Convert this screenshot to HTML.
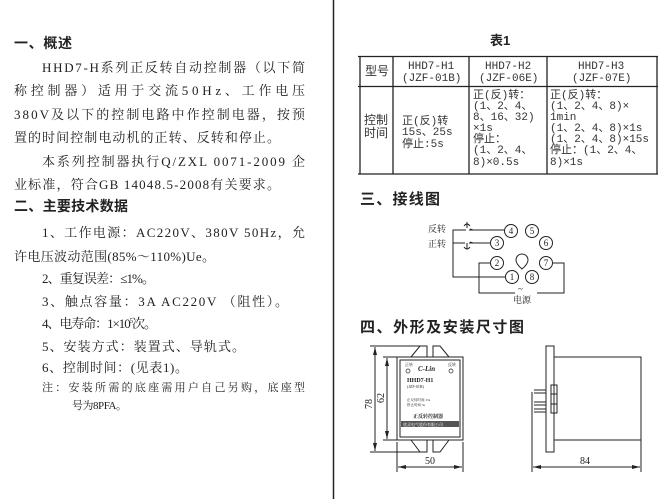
<!DOCTYPE html>
<html><head><meta charset="utf-8"><style>
html,body{margin:0;padding:0;background:#fff}
svg{display:block}
text{font-family:"Liberation Serif","Noto Serif CJK SC","Noto Sans CJK SC",serif;fill:#222}
.h{font-family:"Liberation Sans","Noto Sans CJK SC",sans-serif;font-weight:bold;font-size:14px}
.b{font-size:13px}
.t{font-size:11px;font-family:"Liberation Mono","Noto Sans CJK SC",monospace;fill:#333}
.n{font-size:9px;text-anchor:middle}
</style></head><body>
<svg width="666" height="499" viewBox="0 0 666 499" xmlns="http://www.w3.org/2000/svg">
<line x1="333.5" y1="0" x2="333.5" y2="499" stroke="#222" stroke-width="1.5"/>
<text class="h" x="14" y="48" textLength="58" lengthAdjust="spacing">一、概述</text>
<text class="b" x="42" y="72" textLength="263" lengthAdjust="spacing">HHD7-H系列正反转自动控制器（以下简</text>
<text class="b" x="14" y="95" textLength="291" lengthAdjust="spacing">称控制器）适用于交流50Hz、工作电压</text>
<text class="b" x="14" y="119" textLength="291" lengthAdjust="spacing">380V及以下的控制电路中作控制电器，按预</text>
<text class="b" x="14" y="142" textLength="266" lengthAdjust="spacing">置的时间控制电动机的正转、反转和停止。</text>
<text class="b" x="42" y="166" textLength="263" lengthAdjust="spacing">本系列控制器执行Q/ZXL 0071-2009 企</text>
<text class="b" x="14" y="189" textLength="266" lengthAdjust="spacing">业标准，符合GB 14048.5-2008有关要求。</text>
<text class="h" x="14" y="211" textLength="114" lengthAdjust="spacing">二、主要技术数据</text>
<text class="b" x="42" y="237" textLength="263" lengthAdjust="spacing">1、工作电源：AC220V、380V  50Hz，允</text>
<text class="b" x="14" y="261" textLength="201" lengthAdjust="spacing">许电压波动范围(85%～110%)Ue。</text>
<text class="b" x="42" y="283" textLength="113" lengthAdjust="spacing">2、重复误差：≤1%。</text>
<text class="b" x="42" y="306" textLength="246" lengthAdjust="spacing">3、触点容量：3A  AC220V （阻性）。</text>
<text class="b" x="42" y="328" textLength="115" lengthAdjust="spacing">4、电寿命：1×10<tspan dy="-5" font-size="7">5</tspan><tspan dy="5">次。</tspan></text>
<text class="b" x="42" y="351" textLength="203" lengthAdjust="spacing">5、安装方式：装置式、导轨式。</text>
<text class="b" x="42" y="372" textLength="146" lengthAdjust="spacing">6、控制时间：(见表1)。</text>
<text class="b" x="42" y="391" textLength="263" lengthAdjust="spacing" style="font-size:11px">注：安装所需的底座需用户自己另购，底座型</text>
<text class="b" x="72" y="409" textLength="55" lengthAdjust="spacing" style="font-size:11px">号为8PFA。</text>
<text class="h" x="490" y="45" style="font-size:13px">表1</text>
<g stroke="#222" stroke-width="1.3" fill="none">
<line x1="358" y1="56.5" x2="658" y2="56.5"/>
<line x1="358" y1="86.5" x2="658" y2="86.5"/>
<line x1="358" y1="174" x2="658" y2="174"/>
<line x1="360" y1="56" x2="360" y2="174"/>
<line x1="393" y1="56" x2="393" y2="174"/>
<line x1="469" y1="56" x2="469" y2="174"/>
<line x1="547" y1="56" x2="547" y2="174"/>
<line x1="657" y1="56" x2="657" y2="174"/>
</g>
<text class="t" x="365" y="75" style="font-size:12px">型号</text>
<text class="t" x="408" y="69">HHD7-H1</text><text class="t" x="402" y="81">(JZF-01B)</text>
<text class="t" x="485" y="69">HHD7-H2</text><text class="t" x="479" y="81">(JZF-06E)</text>
<text class="t" x="578" y="69">HHD7-H3</text><text class="t" x="572" y="81">(JZF-07E)</text>
<text class="t" x="364" y="124" style="font-size:12px">控制</text><text class="t" x="364" y="137" style="font-size:12px">时间</text>
<text class="t" x="402" y="124">正(反)转</text><text class="t" x="402" y="135">15s、25s</text><text class="t" x="402" y="147">停止:5s</text>
<text class="t" x="473" y="98">正(反)转：</text>
<text class="t" x="473" y="109"> (1、2、4、</text>
<text class="t" x="473" y="120">8、16、32)</text>
<text class="t" x="473" y="131">×1s</text>
<text class="t" x="473" y="142">停止：</text>
<text class="t" x="473" y="153">(1、2、4、</text>
<text class="t" x="473" y="165">8)×0.5s</text>
<text class="t" x="550" y="98">正(反)转：</text>
<text class="t" x="550" y="109">(1、2、4、8)×</text>
<text class="t" x="550" y="120">1min</text>
<text class="t" x="550" y="131">(1、2、4、8)×1s</text>
<text class="t" x="550" y="142">(1、2、4、8)×15s</text>
<text class="t" x="550" y="153">停止：(1、2、4、</text>
<text class="t" x="550" y="165">8)×1s</text>
<text class="h" x="360" y="204" textLength="80" lengthAdjust="spacing" style="font-size:15px">三、接线图</text>
<g stroke="#222" stroke-width="1" fill="none">
<circle cx="511" cy="231" r="6.5"/><circle cx="532" cy="231" r="6.5"/>
<circle cx="497" cy="243" r="6.5"/><circle cx="546" cy="243" r="6.5"/>
<circle cx="497" cy="263" r="6.5"/><circle cx="546" cy="263" r="6.5"/>
<circle cx="512" cy="277" r="6.5"/><circle cx="532" cy="277" r="6.5"/>
<path d="M516 260 a6 6 0 1 1 12 0 q0 4 -6 9 q-6 -5 -6 -9z"/>
<polyline points="466,230 453,230 453,277 505,277"/>
<line x1="469" y1="230" x2="504" y2="230"/>
<line x1="453" y1="243" x2="465" y2="243"/>
<line x1="469" y1="243" x2="490" y2="243"/>
<path d="M464 226 q3 -4 6 0 M467 222 v6 M470 229 l3 1"/>
<path d="M464 247 q3 4 6 0 M467 243 v6 M470 242 l3 1"/>
<polyline points="490,263 479,263 479,293 515,293"/>
<polyline points="537,293 564,293 564,263 553,263"/>
</g>
<text class="n" x="511" y="234">4</text><text class="n" x="532" y="234">5</text>
<text class="n" x="497" y="246">3</text><text class="n" x="546" y="246">6</text>
<text class="n" x="497" y="266">2</text><text class="n" x="546" y="266">7</text>
<text class="n" x="512" y="280">1</text><text class="n" x="532" y="280">8</text>
<text x="428" y="232" style="font-size:9px">反转</text>
<text x="428" y="247" style="font-size:9px">正转</text>
<text x="518" y="292" style="font-size:9px">~</text>
<text x="513" y="303" style="font-size:9px">电源</text>
<text class="h" x="360" y="332" textLength="164" lengthAdjust="spacing" style="font-size:15px">四、外形及安装尺寸图</text>
<g stroke="#222" stroke-width="1" fill="none">
<rect x="397" y="357" width="66" height="83"/>
<rect x="400" y="360" width="60" height="77"/>
<path d="M411 357 L420 346 H427 V357 M449 357 L440 346 H433 V357"/>
<path d="M411 440 L420 452 H427 V440 M449 440 L440 452 H433 V440"/>
<line x1="370" y1="346" x2="420" y2="346"/><line x1="370" y1="452" x2="420" y2="452"/>
<line x1="375" y1="347" x2="375" y2="451"/>
<line x1="383" y1="357" x2="397" y2="357"/><line x1="383" y1="440" x2="397" y2="440"/>
<line x1="387" y1="358" x2="387" y2="439"/>
<line x1="397" y1="442" x2="397" y2="472"/><line x1="463" y1="442" x2="463" y2="472"/>
<line x1="398" y1="467" x2="462" y2="467"/>
<rect x="546" y="346" width="8" height="106"/>
<rect x="554" y="357" width="87" height="83"/>
<rect x="551" y="385" width="6" height="28"/>
<line x1="551" y1="394" x2="557" y2="394"/><line x1="551" y1="404" x2="557" y2="404"/>
<path d="M534 390 H546 M534 393 H546 M534 402 H546 M534 405 H546 M534 409 H546 M534 412 H546"/>
<line x1="532" y1="392" x2="532" y2="472"/><line x1="641" y1="440" x2="641" y2="472"/>
<line x1="533" y1="467" x2="640" y2="467"/>
</g>
<g fill="#222">
<path d="M375 347 l-2 8 h4z M375 451 l-2 -8 h4z M387 358 l-2 8 h4z M387 439 l-2 -8 h4z"/>
<path d="M398 467 l8 -2 v4z M462 467 l-8 -2 v4z M533 467 l8 -2 v4z M640 467 l-8 -2 v4z"/>
<rect x="401" y="421" width="58" height="6" fill="#555"/>
</g>
<text x="372" y="404" style="font-size:10px" transform="rotate(-90 372 404)" text-anchor="middle">78</text>
<text x="384" y="398" style="font-size:10px" transform="rotate(-90 384 398)" text-anchor="middle">62</text>
<text x="425" y="464" style="font-size:10px">50</text>
<text x="580" y="464" style="font-size:10px">84</text>
<g style="font-family:'Liberation Sans',sans-serif">
<text x="405" y="366" style="font-size:4px">正转</text><text x="448" y="366" style="font-size:4px">反转</text>
<circle cx="408" cy="371" r="2" fill="none" stroke="#222" stroke-width="0.7"/>
<circle cx="451" cy="371" r="2" fill="none" stroke="#222" stroke-width="0.7"/>
<text x="418" y="371" style="font-size:7px;font-weight:bold;font-style:italic">C-Lin</text>
<text x="407" y="382" style="font-size:6px;font-weight:bold">HHD7-H1</text>
<text x="407" y="388" style="font-size:4px">(JZF-01B)</text>
<text x="407" y="401" style="font-size:3.5px">正反转时间 15s</text>
<text x="407" y="406" style="font-size:3.5px">停止时间 5s</text>
<text x="413" y="418" style="font-size:5px;font-weight:bold">正反转控制器</text>
<text x="403" y="426" style="font-size:4px;fill:#fff">欣灵电气股份有限公司</text>
</g>
</svg>
</body></html>
